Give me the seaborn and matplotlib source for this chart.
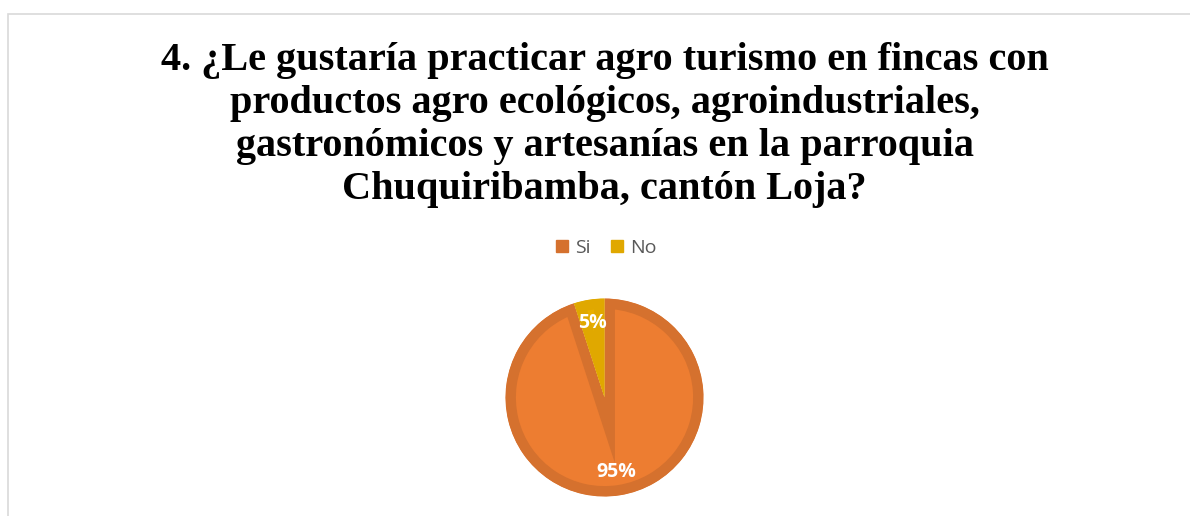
import matplotlib
matplotlib.use("Agg")
import matplotlib.pyplot as plt
from matplotlib.patches import Patch, Rectangle
import seaborn as sns

# data
labels = ["Si", "No"]
values = [95, 5]
face_colors = ["#ED7D31", "#E9AF00"]
edge_colors = ["#D5712E", "#E0A800"]

title = ("4. ¿Le gustaría practicar agro turismo en fincas con\n"
         "productos agro ecológicos, agroindustriales,\n"
         "gastronómicos y artesanías en la parroquia\n"
         "Chuquiribamba, cantón Loja?")

sns.set_theme(style="white")
plt.rcParams["font.family"] = ["Open Sans", "DejaVu Sans"]

W, H = 1190, 516
fig = plt.figure(figsize=(W / 100, H / 100), dpi=100)
fig.patch.set_facecolor("white")

# chart frame (top and left edges visible, rest cropped)
fig.patches.append(Rectangle((8 / W, -0.2), 1.2, 1.2 - 13.5 / H,
                             transform=fig.transFigure, fill=False,
                             edgecolor="#D9D9D9", linewidth=1.2))

# pie axes: 200x200 px centered on the pie
cx, cy, size = 604.5, 397.5, 200
ax = fig.add_axes([(cx - size / 2) / W, (H - cy - size / 2) / H, size / W, size / H])
wedges, texts, autotexts = ax.pie(
    values, colors=face_colors, startangle=90, counterclock=False,
    radius=0.99, autopct="%1.0f%%", pctdistance=0.76,
    wedgeprops=dict(linewidth=15),
    textprops=dict(color="white", fontsize=14, fontweight="bold"),
)
# inner stroke: stroke twice as wide, clipped to the wedge itself
for w, ec in zip(wedges, edge_colors):
    w.set_edgecolor(ec)
    w.set_joinstyle("miter")
    w.set_clip_on(True)
    w.set_clip_path(w)
for t in autotexts:
    t.set_zorder(5)
ax.set_xlim(-1, 1)
ax.set_ylim(-1, 1)
ax.set_aspect("equal")
ax.axis("off")

fig.text(cx / W, 1 - 125 / H, title, ha="center", va="center",
         fontsize=29, fontweight="bold", family=["Liberation Serif", "DejaVu Serif"],
         linespacing=1.21, color="black")

handles = [Patch(facecolor=c, edgecolor=c) for c in edge_colors]
fig.legend(handles, labels, loc="center", bbox_to_anchor=(606.5 / W, 1 - 248 / H),
           ncol=2, frameon=False, fontsize=14, handlelength=0.62, handleheight=0.62,
           handletextpad=0.35, columnspacing=1.05, labelcolor="#595959")

fig.savefig("out.png", dpi=100)
